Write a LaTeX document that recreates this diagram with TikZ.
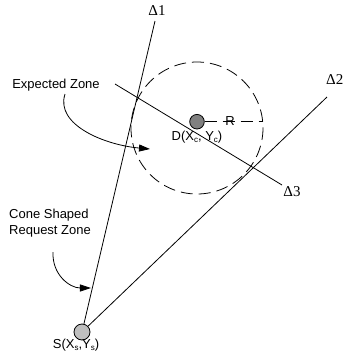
\documentclass[tikz,border=0pt]{standalone}
\usepackage{fontspec}
\setmainfont{Liberation Sans}
\newfontfamily\serifdelta{Liberation Serif}
\usetikzlibrary{arrows.meta}
\newcommand{\lowsub}[1]{\raisebox{-0.35ex}{\fontsize{8}{9}\selectfont #1}}
\begin{document}
\begin{tikzpicture}[x=1pt,y=-1pt,
  ln/.style={line width=0.8pt},
  lbl/.style={font=\fontsize{13}{15.5}\selectfont, inner sep=0pt},
  dlt/.style={font=\serifdelta\fontsize{15}{17}\selectfont, inner sep=0pt},
  dashcirc/.style={line width=0.8pt, dash pattern=on 12pt off 6pt},
  curvedarrow/.style={line width=0.8pt, -{Triangle[length=11pt,width=7pt]}}]
\useasboundingbox (0,0) rectangle (344,360);
% points
\node[circle, draw, line width=0.8pt, fill=black!25, minimum size=16pt, inner sep=0pt] (S) at (82,332) {};
\node[circle, draw, line width=0.8pt, fill=black!50, minimum size=14.6pt, inner sep=0pt] (D) at (197,121.7) {};
\coordinate (d1) at (155,21);
\coordinate (d2) at (327,97);
\coordinate (d3a) at (115,84);
\coordinate (d3b) at (282,185);
\coordinate (redge) at (263,121.7);
% zone circle
\draw[dashcirc] (197,128) circle[radius=66];
% lines
\draw[ln] (S) -- (d1);
\draw[ln] (S) -- (d2);
\draw[ln] (d3a) -- (d3b);
\draw[dashcirc] (D) -- (redge);
% labels
\node[dlt] (L1) at (157,11) {Δ1};
\node[dlt, anchor=east] (L2) at (343.5,80) {Δ2};
\node[dlt] (L3) at (292,192) {Δ3};
\node[lbl] (R) at (230,121) {R};
\node[lbl] (DL) at (197,137) {D(X\lowsub{c}, Y\lowsub{c})};
\node[lbl] (SL) at (76,345) {S(X\lowsub{s},Y\lowsub{s})};
\node[lbl] (EZ) at (56,85) {Expected Zone};
\node[lbl, align=left, anchor=west] (CZ) at (9,223) {Cone Shaped\\Request Zone};
% curved arrows
\coordinate (eza) at (65,94);
\coordinate (ezb) at (150,149);
\draw[curvedarrow] (eza) .. controls (55,125) and (105,145) .. (ezb);
\coordinate (cza) at (53,252);
\coordinate (czb) at (91,288);
\draw[curvedarrow] (cza) .. controls (52,275) and (70,288) .. (czb);
\end{tikzpicture}
\end{document}
